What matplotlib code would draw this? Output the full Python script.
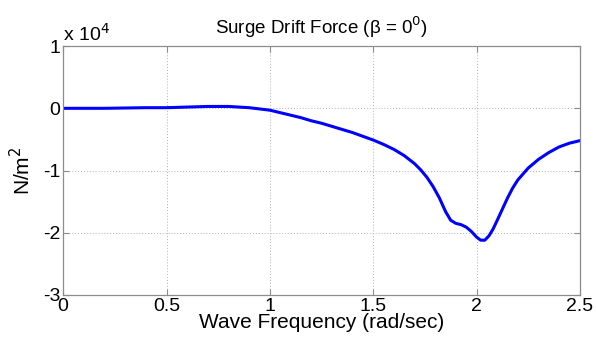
import matplotlib
matplotlib.use("Agg")
import matplotlib.pyplot as plt

plt.rcParams['font.family'] = ['Liberation Sans', 'DejaVu Sans']

freq = [0, 0.1, 0.2, 0.3, 0.4, 0.5, 0.6, 0.7, 0.8, 0.9, 1.0, 1.05, 1.1, 1.15,
        1.2, 1.25, 1.3, 1.35, 1.4, 1.45, 1.5, 1.55, 1.6, 1.65, 1.7, 1.73, 1.76,
        1.79, 1.82, 1.85, 1.875, 1.9, 1.925, 1.95, 1.975, 2.0, 2.02, 2.04, 2.06,
        2.08, 2.1, 2.125, 2.15, 2.175, 2.2, 2.25, 2.3, 2.35, 2.4, 2.45, 2.5]
force_e4 = [0, 0, 0, 0.005, 0.01, 0.01, 0.02, 0.03, 0.03, 0.01, -0.03, -0.07,
            -0.11, -0.15, -0.2, -0.24, -0.29, -0.34, -0.39, -0.45, -0.51, -0.58,
            -0.66, -0.76, -0.89, -0.99, -1.11, -1.26, -1.44, -1.66, -1.8, -1.85,
            -1.87, -1.91, -1.98, -2.07, -2.12, -2.12, -2.05, -1.94, -1.8, -1.62,
            -1.44, -1.28, -1.15, -0.96, -0.82, -0.71, -0.62, -0.56, -0.52]
xticks = [0, 0.5, 1, 1.5, 2, 2.5]
xticklabels = ['0', '0.5', '1', '1.5', '2', '2.5']
yticks = [1, 0, -1, -2, -3]

fig = plt.figure(figsize=(5.96, 3.39), dpi=100)
ax = fig.add_axes([0.106, 0.130, 0.867, 0.734])
ax.plot(freq, force_e4, color=(0, 0, 1), lw=2.2, solid_joinstyle='round')
ax.set_xlim(0, 2.5)
ax.set_ylim(-3, 1)
ax.set_xticks(xticks)
ax.set_xticklabels(xticklabels)
ax.set_yticks(yticks)
ax.set_yticklabels([str(v) for v in yticks])
ax.grid(True, linestyle=(0, (1, 2)), color='#b0b0b0', lw=0.7)
for s in ax.spines.values():
    s.set_color('#8c8c8c')
    s.set_linewidth(0.9)
ax.tick_params(direction='in', length=4, color='#8c8c8c', labelsize=14,
               top=True, right=True, pad=2)
ax.set_xlabel('Wave Frequency (rad/sec)', fontsize=15, labelpad=-1)
ax.set_ylabel('N/m$^2$', fontsize=15, labelpad=6)
ax.set_title('Surge Drift Force (β = 0$^0$)', fontsize=13.5, pad=9)
ax.text(0.0, 1.005, 'x 10$^4$', transform=ax.transAxes, fontsize=14,
        ha='left', va='bottom')
fig.savefig('out.png', dpi=100)
